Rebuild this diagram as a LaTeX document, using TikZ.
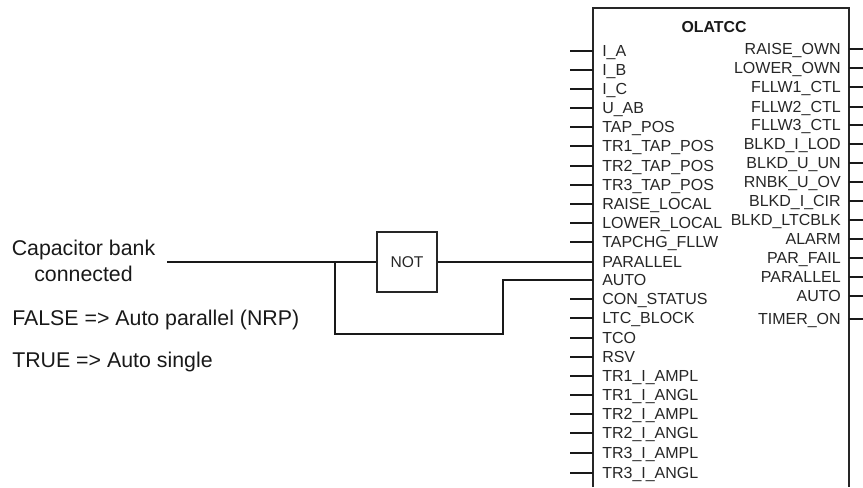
\documentclass[tikz,border=0pt]{standalone}
\usepackage{fontspec}
\setmainfont{Liberation Sans}
\tikzset{
  wire/.style={line width=1.4pt,black!90,line cap=butt},
  fblock/.style={line width=1.4pt,black!85},
  inlabel/.style={anchor=base west,inner sep=0pt,font=\fontsize{12pt}{13pt}\selectfont,text=black!85},
  outlabel/.style={anchor=base east,inner sep=0pt,font=\fontsize{12pt}{13pt}\selectfont,text=black!85},
  title/.style={inner sep=0pt,font=\bfseries\fontsize{11.9pt}{13pt}\selectfont,text=black!90},
  note/.style={inner sep=0pt,font=\fontsize{16pt}{19.5pt}\selectfont,text=black!90},
  notbox/.style={draw,fblock,fill=white,minimum width=45pt,minimum height=45pt,inner sep=0pt,font=\fontsize{11.7pt}{13pt}\selectfont,text=black!85}
}
\begin{document}
\begin{tikzpicture}[x=0.75pt,y=-0.75pt]
\useasboundingbox (0,0) rectangle (863,487);
% function block, open at the bottom
\coordinate (bl) at (593,487);
\coordinate (tl) at (593,8);
\coordinate (tr) at (849,8);
\coordinate (br) at (849,487);
\draw[fblock,line join=miter] (bl) -- (tl) -- (tr) -- (br);
\node[title] (blocktitle) at (714,27) {OLATCC};
% inputs
\foreach \yy/\txt/\nm in {
  51/I\_A/ia,70/I\_B/ib,89/I\_C/ic,108/U\_AB/uab,127/TAP\_POS/tap,
  146/TR1\_TAP\_POS/trone,166/TR2\_TAP\_POS/trtwo,185/TR3\_TAP\_POS/trthree,
  204/RAISE\_LOCAL/rl,223/LOWER\_LOCAL/ll,242/TAPCHG\_FLLW/tf,
  262/PARALLEL/par,280/AUTO/auto,299/CON\_STATUS/con,318/LTC\_BLOCK/ltc,
  338/TCO/tco,357/RSV/rsv,376/TR1\_I\_AMPL/aone,395/TR1\_I\_ANGL/bone,
  414/TR2\_I\_AMPL/atwo,433/TR2\_I\_ANGL/btwo,453/TR3\_I\_AMPL/athree,473/TR3\_I\_ANGL/bthree}{
  \coordinate (in\nm) at (593,\yy);
  \coordinate (infree\nm) at (570,\yy);
  \node[inlabel] (lab\nm) at (602,\yy+5.4) {\txt};
}
\foreach \nm in {ia,ib,ic,uab,tap,trone,trtwo,trthree,rl,ll,tf,con,ltc,tco,rsv,aone,bone,atwo,btwo,athree,bthree}{
  \draw[wire] (infree\nm) -- (in\nm);
}
% outputs
\foreach \yy/\txt/\nm in {
  49/RAISE\_OWN/a,68/LOWER\_OWN/b,87/FLLW1\_CTL/c,107/FLLW2\_CTL/d,125/FLLW3\_CTL/e,
  144/BLKD\_I\_LOD/f,163/BLKD\_U\_UN/g,182/RNBK\_U\_OV/h,201/BLKD\_I\_CIR/i,220/BLKD\_LTCBLK/j,
  239/ALARM/k,258/PAR\_FAIL/l,277/PARALLEL/m,296/AUTO/n,319/TIMER\_ON/o}{
  \coordinate (out\nm) at (849,\yy);
  \coordinate (outfree\nm) at (863,\yy);
  \node[outlabel] (olab\nm) at (841,\yy+5.6) {\txt};
  \draw[wire] (out\nm) -- (outfree\nm);
}
% logic
\node[notbox] (not) at (407,262) {NOT};
\coordinate (capout) at (167,262);
\coordinate (split) at (335,262);
\coordinate (low) at (335,334);
\coordinate (lowr) at (503,334);
\coordinate (up) at (503,280);
\draw[wire] (capout) -- (not.west);
\draw[wire] (not.east) -- (inpar);
\draw[wire,line join=miter] (split) -- (low) -- (lowr) -- (up) -- (inauto);
% notes
\node[note,align=center] (cap) at (83.5,261) {Capacitor bank\\connected};
\node[note,anchor=west] (nf) at (12,319.5) {FALSE => Auto parallel (NRP)};
\node[note,anchor=west] (nt) at (12,361.5) {TRUE => Auto single};
\end{tikzpicture}
\end{document}
